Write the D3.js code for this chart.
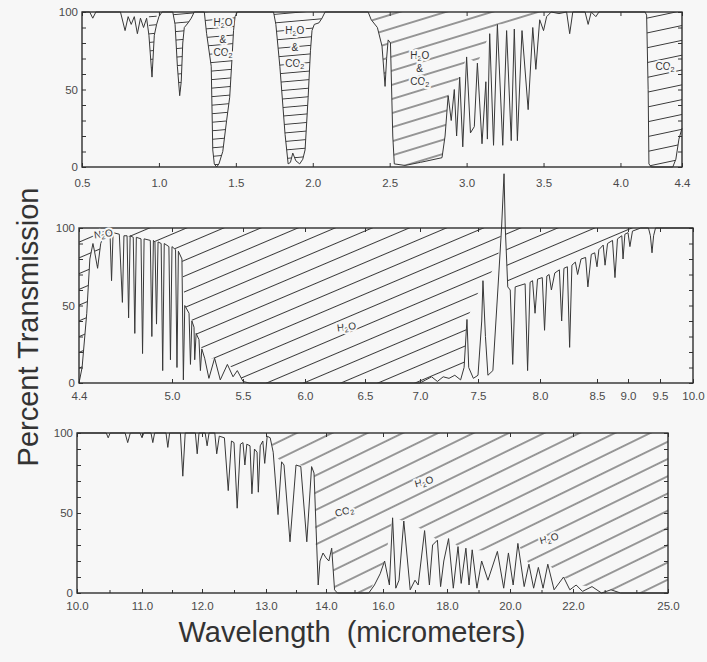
<!DOCTYPE html>
<html>
<head>
<meta charset="utf-8">
<script src="https://cdn.jsdelivr.net/npm/d3@7"></script>
<style>
body { margin: 0; background: #f7f7f7; }
svg { display: block; font-family: "Liberation Sans", Arial, sans-serif; }
.frame { fill: none; stroke: #2e2e2e; stroke-width: 1.4; }
.curve { fill: none; stroke: #383838; stroke-width: 1; stroke-linejoin: round; }
.axis line { stroke: #333; stroke-width: 1; }
.axis text { font-size: 11.5px; fill: #4a4a4a; font-family: "Liberation Sans", Arial, sans-serif; }
.chem { font-size: 10px; fill: #333; stroke: #f7f7f7; stroke-width: 4; paint-order: stroke; stroke-linejoin: round; }
.title { font-size: 29px; fill: #333; }
</style>
</head>
<body>
<div id="chart"></div>
<script>
// tick values / labels
let ticks1 = [0.5, 1.0, 1.5, 2.0, 2.5, 3.0, 3.5, 4.0, 4.4];
let tickLabels1 = ['0.5', '1.0', '1.5', '2.0', '2.5', '3.0', '3.5', '4.0', '4.4'];
let ticks2 = [4.4, 5.0, 5.5, 6.0, 6.5, 7.0, 7.5, 8.0, 8.5, 9.0, 9.5, 10.0];
let tickLabels2 = ['4.4', '5.0', '5.5', '6.0', '6.5', '7.0', '7.5', '8.0', '8.5', '9.0', '9.5', '10.0'];
let ticks3 = [10, 11, 12, 13, 14, 16, 18, 20, 22, 25];
let tickLabels3 = ['10.0', '11.0', '12.0', '13.0', '14.0', '16.0', '18.0', '20.0', '22.0', '25.0'];
let minor3 = [10.5, 11.5, 12.5, 13.5, 15, 17, 19, 21, 23, 24];
let pctTicks = [0, 10, 20, 30, 40, 50, 60, 70, 80, 90, 100];

// transmission traces [wavelength um, percent]
let curve1 = [[0.5,100],[0.55,100],[0.57,96],[0.59,100],[0.75,100],[0.78,88],[0.80,97],[0.82,92],[0.84,97],[0.86,86],[0.88,96],[0.90,90],[0.92,96],[0.935,85],[0.955,58],[0.97,85],[0.985,92],[1.0,97],[1.02,100],
    [1.09,100],[1.105,92],[1.12,65],[1.135,46],[1.145,55],[1.155,80],[1.165,90],[1.19,93],[1.21,96],[1.23,100],
    [1.295,100],[1.31,86],[1.34,65],[1.35,11],[1.36,2],[1.375,0],[1.39,2],[1.415,10],[1.44,30],[1.46,45],[1.475,70],[1.485,88],[1.495,97],[1.51,100],
    [1.745,100],[1.76,92],[1.786,65],[1.82,21],[1.84,2],[1.855,3],[1.87,9],[1.89,4],[1.915,2],[1.935,5],[1.95,11],[1.97,45],[1.985,75],[1.995,88],[2.01,92],[2.04,93],[2.06,96],[2.08,100],
    [2.36,100],[2.38,95],[2.42,90],[2.45,78],[2.47,52],[2.48,70],[2.49,82],[2.505,80],[2.52,20],[2.53,2],[2.6,1],[2.7,3],[2.84,6],[2.86,20],[2.88,46],[2.9,30],[2.92,50],[2.935,20],[2.955,58],[2.975,13],[3.0,71],[3.025,22],[3.05,26],[3.07,67],[3.1,15],[3.125,55],[3.135,18],[3.15,86],[3.175,14],[3.2,92],[3.235,14],[3.26,88],[3.29,17],[3.31,89],[3.33,17],[3.36,88],[3.4,37],[3.43,90],[3.45,63],[3.475,95],[3.5,88],[3.52,97],[3.55,100],
    [3.6,99],[3.65,100],[3.67,86],[3.69,100],[3.77,100],[3.79,92],[3.81,100],[3.84,97],[3.86,100],[4.16,100],[4.17,98],[4.18,50],[4.185,2],[4.2,0],[4.34,0],[4.36,5],[4.38,18],[4.4,25]];

let curve2 = [[4.4,0],[4.42,10],[4.45,45],[4.47,80],[4.49,90],[4.5,85],[4.52,74],[4.54,90],[4.57,98],[4.6,97],[4.61,66],[4.62,97],[4.66,96],[4.68,52],[4.69,95],[4.71,95],[4.72,42],[4.73,95],[4.75,94],[4.76,32],[4.77,94],[4.8,93],[4.81,19],[4.82,93],[4.86,92],[4.87,30],[4.88,92],[4.89,91],[4.90,38],[4.91,91],[4.93,90],[4.94,8],[4.95,90],[4.98,88],[4.99,15],[5.0,88],[5.025,86],[5.035,10],[5.045,85],[5.07,80],[5.08,2],[5.09,50],[5.12,45],[5.13,12],[5.14,40],[5.155,36],[5.16,15],[5.17,32],[5.19,28],[5.20,8],[5.21,22],[5.23,16],[5.26,3],[5.30,16],[5.34,2],[5.39,12],[5.43,4],[5.46,8],[5.5,1],[5.55,0],
    [7.0,0],[7.05,2],[7.1,4],[7.15,1],[7.2,4],[7.25,3],[7.3,5],[7.35,2],[7.38,10],[7.405,41],[7.42,10],[7.46,3],[7.5,5],[7.53,40],[7.54,66],[7.56,30],[7.58,5],[7.62,8],[7.66,60],[7.69,100],[7.71,135],[7.72,100],[7.74,62],[7.76,60],[7.78,12],[7.80,62],[7.88,64],[7.90,8],[7.92,65],[7.94,66],[7.96,45],[7.98,67],[8.02,68],[8.04,34],[8.06,69],[8.08,70],[8.1,60],[8.13,71],[8.17,73],[8.19,40],[8.21,74],[8.24,75],[8.26,23],[8.28,76],[8.31,78],[8.33,70],[8.36,80],[8.40,81],[8.42,62],[8.45,83],[8.48,84],[8.5,75],[8.53,86],[8.6,89],[8.63,76],[8.67,90],[8.75,92],[8.79,68],[8.83,93],[8.9,95],[8.92,80],[8.95,96],[9.0,97],[9.03,88],[9.07,98],[9.2,100],[9.32,100],[9.35,95],[9.375,84],[9.4,95],[9.43,100],[10,100]];

let curve3 = [[10,100],[10.45,100],[10.48,97],[10.51,100],[10.74,100],[10.78,94],[10.82,100],[10.97,100],[11.0,97],[11.03,100],[11.15,100],[11.18,94],[11.21,100],[11.4,100],[11.43,91],[11.46,100],[11.64,100],[11.68,73],[11.72,100],[11.89,100],[11.92,87],[11.95,100],[12.05,100],[12.08,92],[12.11,100],[12.2,100],[12.23,87],[12.27,98],[12.35,97],[12.41,64],[12.46,95],[12.5,94],[12.55,53],[12.6,93],[12.64,94],[12.67,80],[12.7,93],[12.75,92],[12.78,62],[12.82,90],[12.86,88],[12.88,63],[12.91,92],[12.95,95],[12.98,81],[13.02,98],[13.07,97],[13.12,88],[13.2,49],[13.26,82],[13.3,80],[13.4,32],[13.5,80],[13.58,79],[13.68,32],[13.76,79],[13.8,75],[13.87,5],[13.9,20],[13.95,25],[14.0,22],[14.1,20],[14.2,28],[14.3,2],[14.4,0],
    [15.5,0],[15.7,5],[15.9,12],[16.05,20],[16.2,5],[16.3,47],[16.4,3],[16.5,8],[16.65,45],[16.85,2],[17.0,8],[17.1,5],[17.3,39],[17.45,5],[17.55,30],[17.7,33],[17.8,4],[17.9,20],[18.05,34],[18.2,3],[18.35,29],[18.45,6],[18.6,28],[18.7,5],[18.8,27],[18.95,3],[19.1,20],[19.3,8],[19.6,26],[19.8,3],[19.95,25],[20.1,5],[20.25,31],[20.45,4],[20.6,18],[20.75,3],[20.9,16],[21.05,3],[21.2,18],[21.4,2],[21.7,10],[21.9,2],[22.1,5],[22.3,1],[22.6,4],[22.9,0],[23.2,2],[23.5,0],[25,0]];

// lower edges of the hatched absorption regions
let envelope1 = [[2.36,100],[2.38,95],[2.42,90],[2.45,78],[2.47,52],[2.48,70],[2.49,82],[2.505,80],[2.52,20],[2.53,2],[2.6,1],[2.7,3],[2.84,6],[2.86,20],[2.88,46],[2.955,58],[3.0,71],[3.07,67],[3.15,86],[3.2,92],[3.26,92],[3.31,92],[3.36,93],[3.43,94],[3.475,96],[3.52,98],[3.55,100]];
let bandRanges1 = [[0.93, 0.99], [1.09, 1.23], [1.295, 1.51], [1.745, 2.08]];
let co2Range1 = [4.16, 4.4];

let envelope2 = [[4.4,0],[4.42,10],[4.45,45],[4.47,80],[4.49,90],[4.5,85],[4.52,74],[4.54,90],[4.57,98],[4.6,97],[4.75,94],[4.86,92],[4.93,90],[5.0,88],[5.045,85],[5.07,80],[5.09,50],[5.12,45],[5.14,40],[5.17,32],[5.19,28],[5.21,22],[5.23,16],[5.30,16],[5.39,12],[5.46,8],[5.5,1],[5.55,0],[7.0,0],[7.1,4],[7.2,4],[7.3,5],[7.38,10],[7.405,41],[7.54,66],[7.6,70],[7.66,80],[7.69,100],[7.72,100],[7.74,62],[7.76,60],[7.80,62],[7.88,64],[7.92,65],[7.94,66],[7.98,67],[8.02,68],[8.06,69],[8.08,70],[8.13,71],[8.17,73],[8.21,74],[8.24,75],[8.28,76],[8.31,78],[8.36,80],[8.40,81],[8.45,83],[8.48,84],[8.53,86],[8.6,89],[8.67,90],[8.75,92],[8.83,93],[8.9,95],[8.95,96],[9.0,97],[9.07,98],[9.2,100]];

let envelope3 = [[13.0,100],[13.07,97],[13.12,90],[13.2,84],[13.26,82],[13.3,81],[13.5,80],[13.76,79],[13.8,77],[13.83,30],[14.2,28],[14.3,2],[14.4,0],[15.5,0],[16.05,20],[16.3,47],[16.65,45],[17.3,39],[17.7,33],[18.05,34],[18.35,29],[18.6,28],[18.8,27],[19.6,26],[19.95,25],[20.25,31],[20.6,18],[20.9,16],[21.2,18],[21.7,10],[22.1,5],[22.6,4],[23.2,2],[23.5,0],[25,0]];

let W = 707, H = 662;

let svg = d3.select('#chart').append('svg')
    .attr('width', W)
    .attr('height', H);

let defs = svg.append('defs');

function addHatch(id, gap, angle) {
    let p = defs.append('pattern')
        .attr('id', id)
        .attr('patternUnits', 'userSpaceOnUse')
        .attr('width', 20)
        .attr('height', gap)
        .attr('patternTransform', `rotate(${angle})`);
    p.append('line')
        .attr('x1', 0).attr('x2', 20)
        .attr('y1', gap / 2).attr('y2', gap / 2)
        .attr('stroke', '#3a3a3a')
        .attr('stroke-width', 1);
}
addHatch('h-flat', 8.5, -5);
addHatch('h-p1', 13.5, -17);
addHatch('h-co2', 14.5, -12);
addHatch('h-p2', 14.5, -23);
addHatch('h-p3', 15.5, -26);

function inRange(curve, r) {
    return curve.filter(d => d[0] >= r[0] && d[0] <= r[1]);
}

let panels = [
    {
        top: 12, bottom: 167,
        domain: [0.5, 4.4], range: [82, 682],
        curve: curve1, ticks: ticks1, labels: tickLabels1, minor: [], pad: 11.5,
        hatch: bandRanges1.map(r => ({pts: inRange(curve1, r), fill: 'h-flat'}))
            .concat([{pts: envelope1, fill: 'h-p1'}, {pts: inRange(curve1, co2Range1), fill: 'h-co2'}]),
        notes: [
            [1.416, 91, 'H2O'], [1.416, 80, '&'], [1.416, 71.5, 'CO2'],
            [1.883, 86, 'H2O'], [1.883, 75, '&'], [1.883, 64.5, 'CO2'],
            [2.695, 70, 'H2O'], [2.695, 61.5, '&'], [2.695, 53, 'CO2'],
            [4.29, 62.5, 'CO2']
        ],
        rot: 0
    },
    {
        top: 228, bottom: 383,
        domain: ticks2, range: [79, 172, 243, 305, 365, 420, 478, 540, 597, 628, 660, 693],
        curve: curve2, ticks: ticks2, labels: tickLabels2, minor: [], pad: 8.5,
        hatch: [{pts: envelope2, fill: 'h-p2'}],
        notes: [[4.56, 94, 'N2O'], [6.35, 34, 'H2O']],
        rot: -8
    },
    {
        top: 433, bottom: 593,
        domain: ticks3, range: [77, 142, 202, 266, 326, 383, 447, 510, 573, 668],
        curve: curve3, ticks: ticks3, labels: tickLabels3, minor: minor3, pad: 8.5,
        hatch: [{pts: envelope3, fill: 'h-p3'}],
        notes: [[14.67, 49, 'CO2'], [17.31, 67.5, 'H2O'], [21.27, 32, 'H2O']],
        rot: -15
    }
];

function chem(g, str, x, y, rot) {
    let t = g.append('text')
        .attr('class', 'chem')
        .attr('text-anchor', 'middle')
        .attr('transform', `translate(${x},${y}) rotate(${rot})`)
        .attr('dy', '0.35em');
    let sub = false;
    str.split(/(\d)/).forEach(s => {
        if (!s) return;
        if (/\d/.test(s)) {
            t.append('tspan').attr('font-size', '0.72em').attr('dy', 2).text(s);
            sub = true;
        } else {
            t.append('tspan').attr('dy', sub ? -2 : 0).text(s);
            sub = false;
        }
    });
}

panels.forEach((p, i) => {
    let x = d3.scaleLinear().domain(p.domain).range(p.range);
    let y = d3.scaleLinear().domain([0, 100]).range([p.bottom, p.top]);
    let left = p.range[0], right = p.range[p.range.length - 1];

    let g = svg.append('g');

    defs.append('clipPath').attr('id', 'clip' + i)
        .append('rect')
        .attr('x', left).attr('y', p.top)
        .attr('width', right - left).attr('height', p.bottom - p.top);

    let area = d3.area()
        .x(d => x(d[0]))
        .y0(y(100))
        .y1(d => y(d[1]));

    g.append('g').attr('clip-path', `url(#clip${i})`)
        .selectAll('path')
        .data(p.hatch)
        .enter().append('path')
        .attr('d', d => area(d.pts))
        .attr('fill', d => `url(#${d.fill})`);

    let line = d3.line()
        .x(d => x(d[0]))
        .y(d => y(d[1]));

    g.append('path')
        .datum(p.curve)
        .attr('class', 'curve')
        .attr('d', line);

    // axes, ticks pointing inward
    let bottomAxis = d3.axisBottom(x)
        .tickValues(p.ticks)
        .tickFormat((d, k) => p.labels[k])
        .tickSize(-4)
        .tickPadding(p.pad);
    g.append('g').attr('class', 'axis')
        .attr('transform', `translate(0,${p.bottom})`)
        .call(bottomAxis)
        .call(a => a.select('.domain').remove());

    if (p.minor.length) {
        g.append('g').attr('class', 'axis')
            .attr('transform', `translate(0,${p.bottom})`)
            .call(d3.axisBottom(x).tickValues(p.minor).tickFormat('').tickSize(-3))
            .call(a => a.select('.domain').remove());
    }

    g.append('g').attr('class', 'axis')
        .attr('transform', `translate(0,${p.top})`)
        .call(d3.axisTop(x).tickValues(p.ticks).tickFormat('').tickSize(-4))
        .call(a => a.select('.domain').remove());

    g.append('g').attr('class', 'axis')
        .attr('transform', `translate(${left},0)`)
        .call(d3.axisLeft(y).tickValues(pctTicks)
            .tickFormat(d => (d % 50 === 0 ? d : ''))
            .tickSize(-4).tickPadding(4))
        .call(a => a.select('.domain').remove());

    g.append('g').attr('class', 'axis')
        .attr('transform', `translate(${right},0)`)
        .call(d3.axisRight(y).tickValues(pctTicks).tickFormat('').tickSize(-4))
        .call(a => a.select('.domain').remove());

    g.append('rect')
        .attr('class', 'frame')
        .attr('x', left).attr('y', p.top)
        .attr('width', right - left).attr('height', p.bottom - p.top);

    p.notes.forEach(n => chem(g, n[2], x(n[0]), y(n[1]), p.rot));
});

svg.append('text')
    .attr('class', 'title')
    .attr('text-anchor', 'middle')
    .attr('transform', 'translate(38,327) rotate(-90)')
    .text('Percent Transmission');

svg.append('text')
    .attr('class', 'title')
    .attr('text-anchor', 'middle')
    .attr('x', 352)
    .attr('y', 642)
    .text('Wavelength\u00a0\u00a0(micrometers)');
</script>
</body>
</html>
